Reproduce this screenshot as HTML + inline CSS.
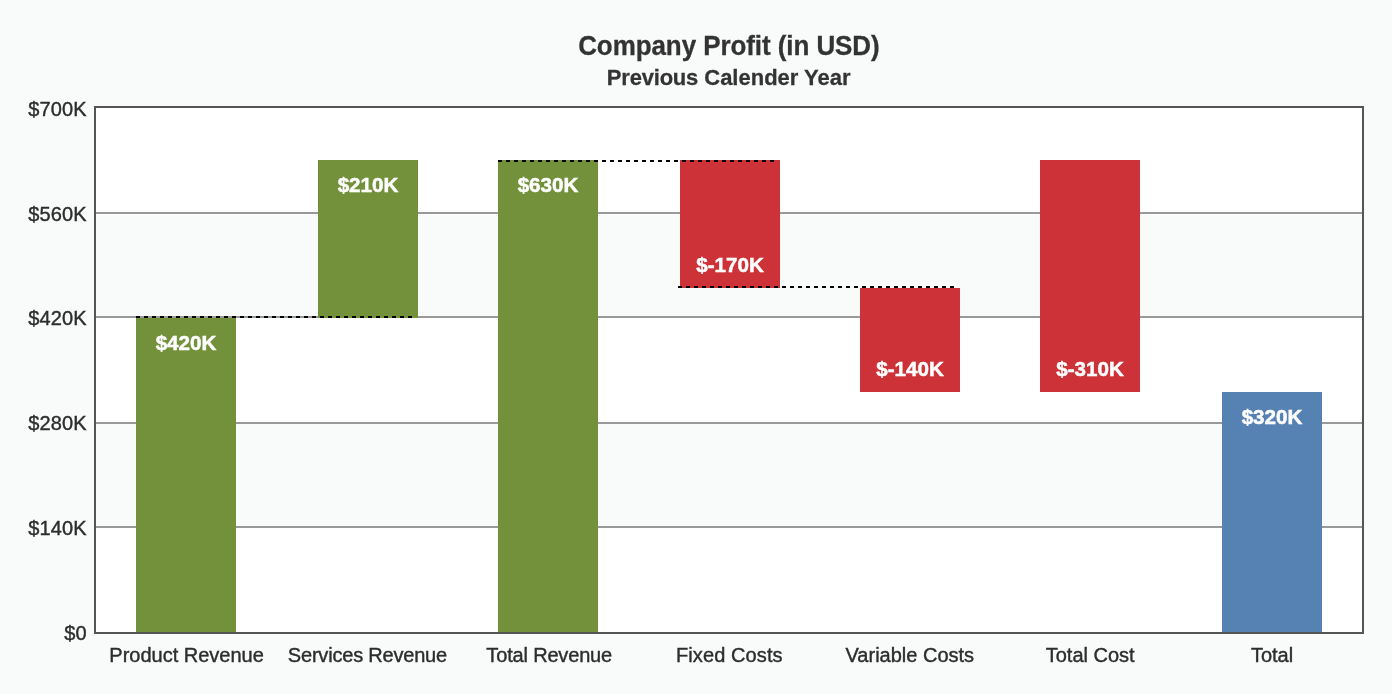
<!DOCTYPE html>
<html lang="en"><head><meta charset="utf-8"><title>Company Profit (in USD)</title>
<style>
html,body{margin:0;padding:0;background:#F9FBFA;}
body{width:1392px;height:694px;overflow:hidden;font-family:"Liberation Sans",Arial,Helvetica,sans-serif;}
svg{display:block;}
text{font-family:"Liberation Sans",Arial,Helvetica,sans-serif;}
.t{font-weight:bold;font-size:26px;fill:#333333;text-anchor:middle;letter-spacing:-0.07px;stroke:#333333;stroke-width:0.3px;}
.s{font-weight:bold;font-size:22px;fill:#333333;text-anchor:middle;stroke:#333333;stroke-width:0.25px;}
.y{font-size:20px;letter-spacing:0.1px;fill:#2D2D2D;text-anchor:end;stroke:#2D2D2D;stroke-width:0.4px;}
.x{font-size:20px;fill:#2D2D2D;text-anchor:middle;stroke:#2D2D2D;stroke-width:0.4px;}
.v{font-size:20.6px;font-weight:bold;fill:#fff;text-anchor:middle;stroke:#fff;stroke-width:0.5px;}
</style></head><body>
<svg width="1392" height="694" viewBox="0 0 1392 694">
<rect x="0" y="0" width="1392" height="694" fill="#F9FBFA"/>
<g shape-rendering="crispEdges">
<rect x="94" y="106" width="1270" height="528" fill="#fff"/>
<rect x="96" y="214" width="1266" height="102" fill="#F9FBFA"/>
<rect x="96" y="424" width="1266" height="102" fill="#F9FBFA"/>
<rect x="96" y="212" width="1266" height="2" fill="#999999"/>
<rect x="96" y="316" width="1266" height="2" fill="#999999"/>
<rect x="96" y="422" width="1266" height="2" fill="#999999"/>
<rect x="96" y="526" width="1266" height="2" fill="#999999"/>
<rect x="136" y="318" width="100" height="314" fill="#73903B"/>
<rect x="318" y="160" width="100" height="158" fill="#73903B"/>
<rect x="498" y="160" width="100" height="472" fill="#73903B"/>
<rect x="680" y="160" width="100" height="128" fill="#CC3237"/>
<rect x="860" y="288" width="100" height="104" fill="#CC3237"/>
<rect x="1040" y="160" width="100" height="232" fill="#CC3237"/>
<rect x="1222" y="392" width="100" height="240" fill="#5682B3"/>
<rect x="94" y="106" width="1270" height="2" fill="#555555"/>
<rect x="94" y="632" width="1270" height="2" fill="#555555"/>
<rect x="94" y="106" width="2" height="528" fill="#555555"/>
<rect x="1362" y="106" width="2" height="528" fill="#555555"/>
<line x1="136" y1="317" x2="414" y2="317" stroke="#000" stroke-width="2" stroke-dasharray="4 4"/>
<line x1="498" y1="161" x2="776" y2="161" stroke="#000" stroke-width="2" stroke-dasharray="4 4"/>
<line x1="678" y1="287" x2="956" y2="287" stroke="#000" stroke-width="2" stroke-dasharray="4 4"/>
</g>
<text class="t" transform="translate(728.9,55) scale(1,1.035)">Company Profit (in USD)</text>
<text class="s" transform="translate(728.7,85) scale(1,1.03)"><tspan style="letter-spacing:-0.2px">Previous</tspan> Calender Year</text>
<text class="y" x="86.7" y="115.6">$700K</text>
<text class="y" x="86.7" y="220.5">$560K</text>
<text class="y" x="86.7" y="325.4">$420K</text>
<text class="y" x="86.7" y="430.3">$280K</text>
<text class="y" x="86.7" y="535.2">$140K</text>
<text class="y" x="86.7" y="640.1">$0</text>
<text class="v" x="186" y="350">$420K</text>
<text class="x" x="186.6" y="662">Product Revenue</text>
<text class="v" x="368" y="192">$210K</text>
<text class="x" x="367.4" y="662" style="letter-spacing:-0.2px">Services Revenue</text>
<text class="v" x="548" y="192">$630K</text>
<text class="x" x="549.2" y="662" style="letter-spacing:-0.17px">Total Revenue</text>
<text class="v" x="730" y="272">$-170K</text>
<text class="x" x="729.3" y="662" style="letter-spacing:0.1px">Fixed Costs</text>
<text class="v" x="910" y="376">$-140K</text>
<text class="x" x="909.8" y="662">Variable Costs</text>
<text class="v" x="1090" y="376">$-310K</text>
<text class="x" x="1090.2" y="662">Total Cost</text>
<text class="v" x="1272" y="424">$320K</text>
<text class="x" x="1272" y="662">Total</text>
</svg>
</body></html>
